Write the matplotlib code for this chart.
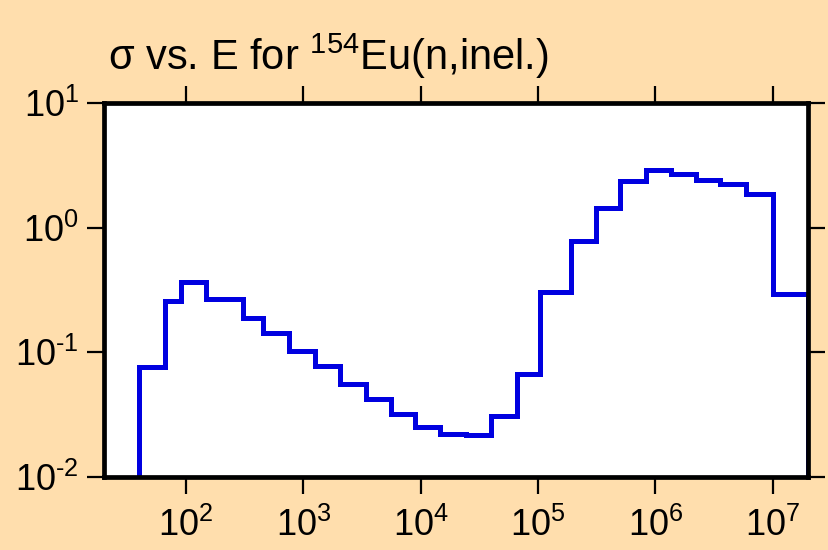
import matplotlib
matplotlib.use("Agg")
import matplotlib.pyplot as plt

# energy bin edges (eV) and cross section per bin (b)
edges = [40, 66, 91, 148, 305, 451, 750, 1250, 2070, 3390, 5620, 9000,
         14700, 24400, 39800, 66000, 1.04e5, 1.9e5, 3.1e5, 5.0e5, 8.3e5,
         1.37e6, 2.2e6, 3.55e6, 5.9e6, 1.0e7, 2.0e7]
sigma = [0.076, 0.26, 0.37, 0.268, 0.19, 0.143, 0.103, 0.078, 0.056, 0.042,
         0.032, 0.025, 0.022, 0.0216, 0.031, 0.067, 0.305, 0.78, 1.44, 2.36,
         2.9, 2.7, 2.41, 2.24, 1.86, 0.294]

xticks = [1e2, 1e3, 1e4, 1e5, 1e6, 1e7]
xlabels = ["$10^{2}$", "$10^{3}$", "$10^{4}$", "$10^{5}$", "$10^{6}$", "$10^{7}$"]
yticks = [1e-2, 1e-1, 1e0, 1e1]
ylabels = [r"$10^{\text{-}2}$", r"$10^{\text{-}1}$", "$10^{0}$", "$10^{1}$"]

plt.rcParams["mathtext.fontset"] = "custom"
plt.rcParams["mathtext.rm"] = "Liberation Sans"
plt.rcParams["mathtext.it"] = "Liberation Sans"
plt.rcParams["font.family"] = ["Liberation Sans", "DejaVu Sans"]

bg = "#FFDEAD"
fig = plt.figure(figsize=(8.29, 5.5), dpi=100, facecolor=bg)
ax = fig.add_axes([0.1255, 0.1327, 0.8492, 0.68])
ax.set_facecolor("white")

ax.stairs(sigma, edges, baseline=1e-2, color="#0000e0", linewidth=3.6)

ax.set_xscale("log")
ax.set_yscale("log")
ax.set_xlim(20, 2e7)
ax.set_ylim(1e-2, 1e1)
ax.minorticks_off()
ax.set_xticks(xticks)
ax.set_xticklabels(xlabels)
ax.set_yticks(yticks)
ax.set_yticklabels(ylabels)
ax.tick_params(which="both", direction="out", length=12, width=1.6,
               top=True, right=True, labelsize=26, pad=6)
ax.tick_params(axis="x", pad=10)
for s in ax.spines.values():
    s.set_linewidth(3.4)

fig.text(0.13, 1 - 70 / 550, r"σ vs. E for $^{154}$Eu(n,inel.)",
         fontsize=30, va="baseline")

fig.savefig("out.png", dpi=100, facecolor=bg)
